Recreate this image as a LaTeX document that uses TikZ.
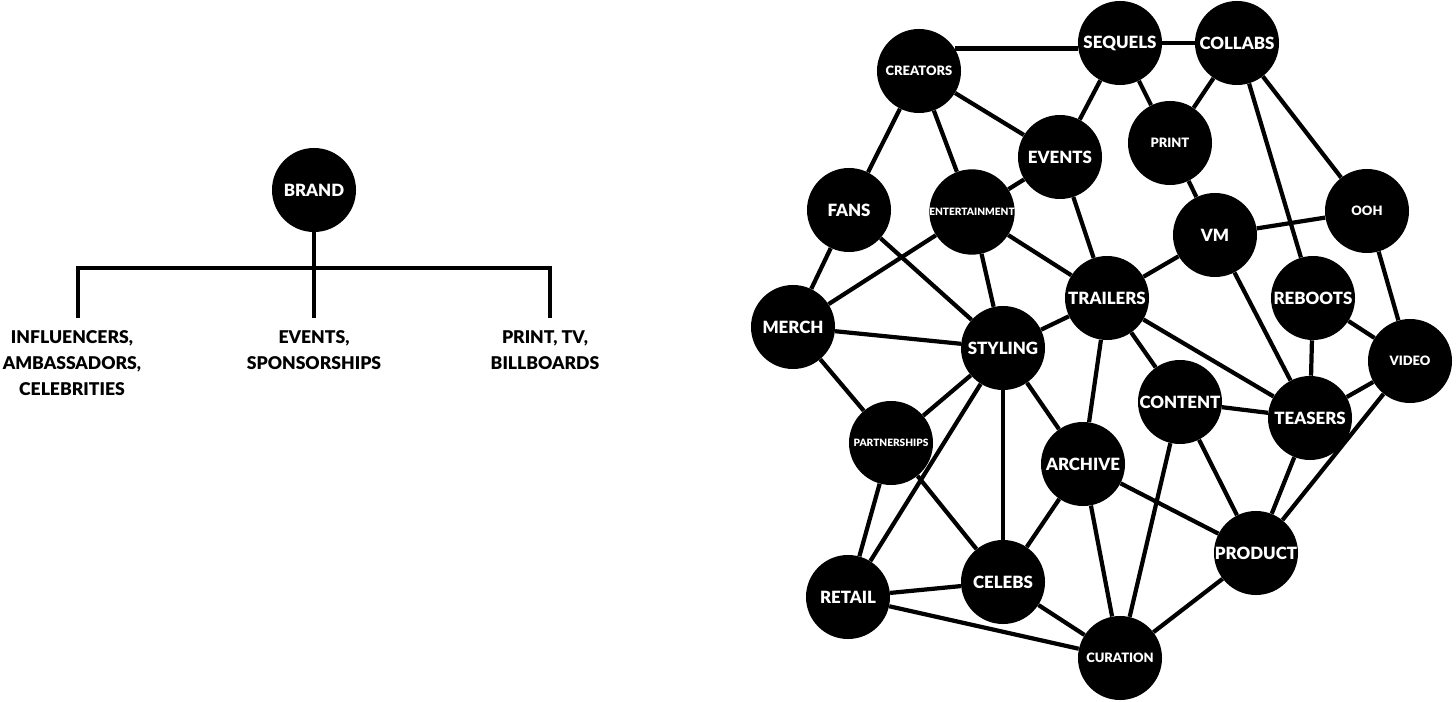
\documentclass[tikz,border=0pt]{standalone}
\usepackage{fontspec}
\setmainfont{Lato}[BoldFont={Lato Black}]
\tikzset{
  ball/.style={circle, fill=black, text=white, inner sep=0pt, minimum size=2.1cm,
    font=\bfseries\fontsize{12}{12}\selectfont},
  midball/.style={ball, font=\bfseries\fontsize{9.2}{10}\selectfont},
  tinyball/.style={ball, font=\bfseries\fontsize{7.2}{7}\selectfont},
  link/.style={line width=3pt},
  branch/.style={align=center, inner sep=0pt, anchor=north,
    font=\bfseries\fontsize{12.5}{18.5}\selectfont}
}
\begin{document}
\begin{tikzpicture}[x=0.025cm, y=-0.025cm]
    \useasboundingbox (0,0) rectangle (1456,702);
    % old model
    \node[ball] (brand) at (314,190) {BRAND};
    \coordinate (dropL) at (78,318);
    \coordinate (barL) at (78,268);
    \coordinate (barR) at (550,268);
    \coordinate (dropR) at (550,318);
    \coordinate (dropM) at (314,318);
    \draw[link] (brand) -- (dropM);
    \draw[link] (dropL) -- (barL) -- (barR) -- (dropR);
    \node[branch] (infl) at (72,330) {INFLUENCERS,\\AMBASSADORS,\\CELEBRITIES};
    \node[branch] (spons) at (314,330) {EVENTS,\\SPONSORSHIPS};
    \node[branch] (media) at (545,330) {PRINT, TV,\\BILLBOARDS};

    % new model
    \node[midball] (creators) at (919,71) {CREATORS};
    \node[ball] (sequels) at (1120,43) {SEQUELS};
    \node[ball] (collabs) at (1237,43) {COLLABS};
    \node[ball] (events) at (1060,157) {EVENTS};
    \node[midball] (print) at (1170,143) {PRINT};
    \node[ball] (fans) at (849,210) {FANS};
    \node[tinyball] (ent) at (972,212) {ENTERTAINMENT};
    \node[ball] (vm) at (1215,235) {VM};
    \node[midball] (ooh) at (1367,211) {OOH};
    \node[ball] (merch) at (793,327) {MERCH};
    \node[ball] (trailers) at (1107,298) {TRAILERS};
    \node[ball] (reboots) at (1313,298) {REBOOTS};
    \node[ball] (styling) at (1003,348) {STYLING};
    \node[midball] (video) at (1410,361) {VIDEO};
    \node[ball] (content) at (1180,402) {CONTENT};
    \node[ball] (teasers) at (1310,418) {TEASERS};
    \node[tinyball] (partner) at (891,443) {PARTNERSHIPS};
    \node[ball] (archive) at (1083,464) {ARCHIVE};
    \node[ball] (product) at (1256,553) {PRODUCT};
    \node[ball] (retail) at (848,597) {RETAIL};
    \node[ball] (celebs) at (1003,582) {CELEBS};
    \node[midball] (curation) at (1120,658) {CURATION};

    \draw[link] (creators.32) -- (creators.32 -| sequels.west);
    \draw[link] (sequels) -- (collabs);
    \draw[link] (creators) -- (fans);
    \draw[link] (creators) -- (ent);
    \draw[link] (creators) -- (events);
    \draw[link] (sequels) -- (events);
    \draw[link] (sequels) -- (print);
    \draw[link] (collabs) -- (print);
    \draw[link] (collabs) -- (ooh);
    \draw[link] (collabs) -- (reboots);
    \draw[link] (print) -- (vm);
    \draw[link] (vm) -- (ooh);
    \draw[link] (vm) -- (trailers);
    \draw[link] (vm) -- (teasers);
    \draw[link] (ooh) -- (video);
    \draw[link] (reboots) -- (video);
    \draw[link] (reboots) -- (teasers);
    \draw[link] (events) -- (ent);
    \draw[link] (events) -- (trailers);
    \draw[link] (fans) -- (merch);
    \draw[link] (fans) -- (styling);
    \draw[link] (ent) -- (merch);
    \draw[link] (ent) -- (styling);
    \draw[link] (ent) -- (trailers);
    \draw[link] (merch) -- (styling);
    \draw[link] (merch) -- (partner);
    \draw[link] (styling) -- (trailers);
    \draw[link] (styling) -- (partner);
    \draw[link] (styling) -- (retail);
    \draw[link] (styling) -- (celebs);
    \draw[link] (styling) -- (archive);
    \draw[link] (trailers) -- (archive);
    \draw[link] (trailers) -- (content);
    \draw[link] (trailers) -- (teasers);
    \draw[link] (content) -- (teasers);
    \draw[link] (content) -- (product);
    \draw[link] (content) -- (curation);
    \draw[link] (teasers) -- (video);
    \draw[link] (teasers) -- (product);
    \draw[link] (video) -- (product);
    \draw[link] (archive) -- (product);
    \draw[link] (archive) -- (celebs);
    \draw[link] (archive) -- (curation);
    \draw[link] (partner) -- (retail);
    \draw[link] (partner) -- (celebs);
    \draw[link] (retail) -- (celebs);
    \draw[link] (retail) -- (curation);
    \draw[link] (celebs) -- (curation);
    \draw[link] (product) -- (curation);
\end{tikzpicture}
\end{document}
